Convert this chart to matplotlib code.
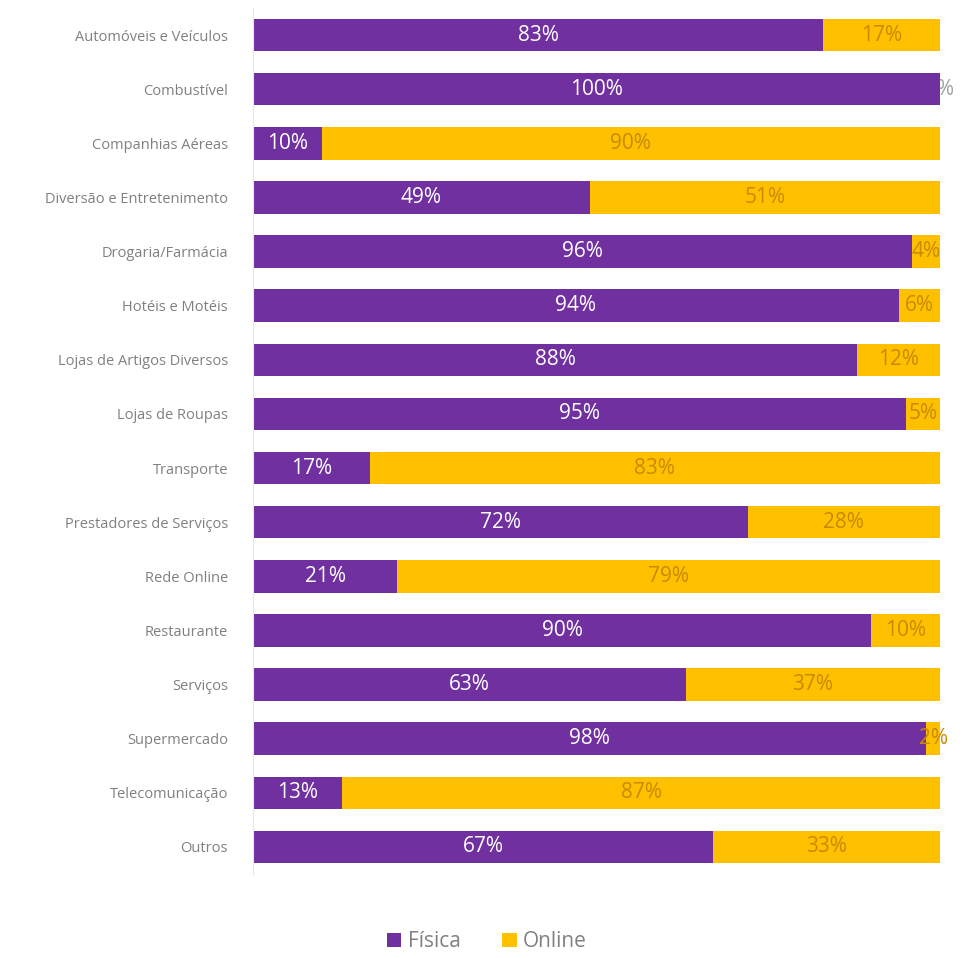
import numpy as np
import matplotlib
matplotlib.use('Agg')
import matplotlib.pyplot as plt

# Categories (top to bottom) and shares per channel
categories = [
    'Automóveis e Veículos', 'Combustível', 'Companhias Aéreas',
    'Diversão e Entretenimento', 'Drogaria/Farmácia', 'Hotéis e Motéis',
    'Lojas de Artigos Diversos', 'Lojas de Roupas', 'Transporte',
    'Prestadores de Serviços', 'Rede Online', 'Restaurante', 'Serviços',
    'Supermercado', 'Telecomunicação', 'Outros',
]
fisica = [83, 100, 10, 49, 96, 94, 88, 95, 17, 72, 21, 90, 63, 98, 13, 67]
online = [17, 0, 90, 51, 4, 6, 12, 5, 83, 28, 79, 10, 37, 2, 87, 33]

purple = '#7030A0'
yellow = '#FFC000'
online_text = '#C88A00'

plt.rcParams['font.family'] = ['Open Sans', 'DejaVu Sans']

fig = plt.figure(figsize=(9.64, 9.58), dpi=100)
ax = fig.add_axes([0.2625, 0.0877, 0.7125, 0.9039])

y = np.arange(len(categories))
ax.barh(y, fisica, height=0.6, color=purple, label='Física', zorder=2)
ax.barh(y, online, left=fisica, height=0.6, color=yellow, label='Online', zorder=2)

# labels in the middle of each segment
for i in range(len(categories)):
    ax.text(fisica[i] / 2, y[i], f'{fisica[i]}%', ha='center', va='center',
            color='white', fontsize=15, zorder=3)
    if online[i] == 0:
        # zero share: label sits behind the bar end, only the tail shows
        ax.text(fisica[i], y[i], f'{online[i]}%', ha='center', va='center',
                color='#a0a0a0', fontsize=15, zorder=1, clip_on=False)
    else:
        ax.text(fisica[i] + online[i] / 2, y[i], f'{online[i]}%', ha='center',
                va='center', color=online_text, fontsize=15, zorder=3,
                clip_on=False)

ax.set_xlim(0, 100)
ax.set_ylim(len(categories) - 0.5, -0.5)
ax.set_yticks(y)
ax.set_yticklabels(categories, fontsize=10.5, color='#808080')
ax.tick_params(axis='y', length=0, pad=18)
ax.set_xticks([])
for s in ['top', 'right', 'bottom']:
    ax.spines[s].set_visible(False)
ax.spines['left'].set_color('#e6e6e6')

fig.legend(loc='center', bbox_to_anchor=(0.505, 0.017), ncol=2, frameon=False,
           fontsize=15, handlelength=0.7, handleheight=0.7, handletextpad=0.3,
           columnspacing=2.0, labelcolor='#808080')

fig.savefig('out.png', dpi=100)
